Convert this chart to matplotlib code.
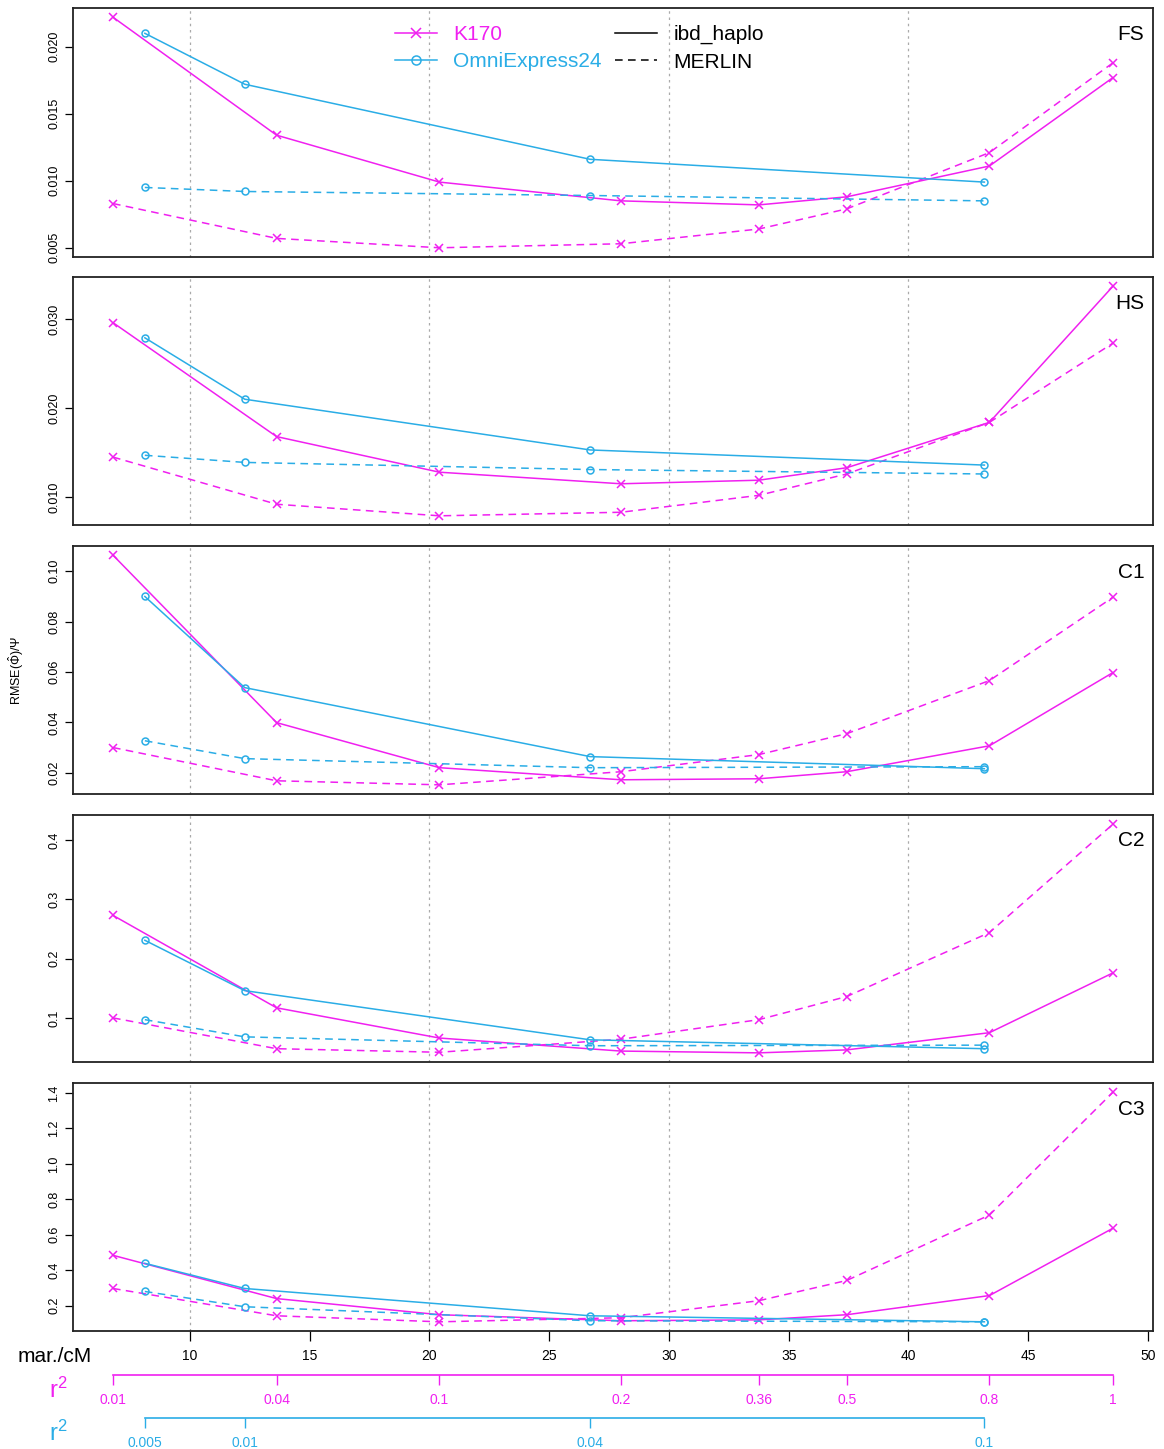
# RMSE of kinship estimates vs marker density, two arrays x two methods

import matplotlib
matplotlib.use("Agg")
import matplotlib.pyplot as plt
from matplotlib.lines import Line2D
from matplotlib.ticker import MultipleLocator, FormatStrFormatter

plt.rcParams["font.family"] = ["Liberation Sans", "DejaVu Sans"]
plt.rcParams["mathtext.fontset"] = "custom"
plt.rcParams["mathtext.rm"] = "Liberation Sans"
plt.rcParams["mathtext.it"] = "Liberation Sans:italic"

MAGENTA = "#F020F0"
CYAN = "#2AADE6"

# marker density (mar./cM) for each r2 pruning threshold
k170_x = [6.79, 13.62, 20.42, 28.0, 33.75, 37.42, 43.38, 48.54]
k170_r2 = ["0.01", "0.04", "0.1", "0.2", "0.36", "0.5", "0.8", "1"]
omni_x = [8.12, 12.29, 26.71, 43.17]
omni_r2 = ["0.005", "0.01", "0.04", "0.1"]

panel_names = ["FS", "HS", "C1", "C2", "C3"]

# RMSE / psi per panel: K170 ibd_haplo, K170 MERLIN, Omni ibd_haplo, Omni MERLIN
fs_k170_ibd = [0.0222, 0.0134, 0.0099, 0.0085, 0.0082, 0.0088, 0.0111, 0.0177]
fs_k170_merlin = [0.0083, 0.0057, 0.0050, 0.0053, 0.0064, 0.0079, 0.0121, 0.0188]
fs_omni_ibd = [0.0210, 0.0172, 0.0116, 0.0099]
fs_omni_merlin = [0.0095, 0.0092, 0.0089, 0.0085]

hs_k170_ibd = [0.0296, 0.0168, 0.0128, 0.0115, 0.0119, 0.0133, 0.0184, 0.0337]
hs_k170_merlin = [0.0145, 0.0092, 0.0079, 0.0083, 0.0102, 0.0126, 0.0184, 0.0273]
hs_omni_ibd = [0.0279, 0.0210, 0.0153, 0.0136]
hs_omni_merlin = [0.0147, 0.0139, 0.0131, 0.0126]

c1_k170_ibd = [0.1064, 0.0399, 0.0220, 0.0172, 0.0176, 0.0204, 0.0307, 0.0598]
c1_k170_merlin = [0.0300, 0.0168, 0.0152, 0.0204, 0.0272, 0.0355, 0.0566, 0.0897]
c1_omni_ibd = [0.0900, 0.0538, 0.0264, 0.0216]
c1_omni_merlin = [0.0327, 0.0256, 0.0220, 0.0224]

c2_k170_ibd = [0.273, 0.117, 0.066, 0.044, 0.041, 0.046, 0.075, 0.176]
c2_k170_merlin = [0.100, 0.048, 0.042, 0.064, 0.097, 0.136, 0.244, 0.427]
c2_omni_ibd = [0.231, 0.146, 0.063, 0.048]
c2_omni_merlin = [0.097, 0.068, 0.053, 0.054]

c3_k170_ibd = [0.484, 0.240, 0.149, 0.115, 0.120, 0.149, 0.257, 0.637]
c3_k170_merlin = [0.297, 0.143, 0.109, 0.132, 0.228, 0.342, 0.711, 1.404]
c3_omni_ibd = [0.439, 0.297, 0.143, 0.109]
c3_omni_merlin = [0.280, 0.194, 0.115, 0.109]

panel_data = [
    (fs_k170_ibd, fs_k170_merlin, fs_omni_ibd, fs_omni_merlin),
    (hs_k170_ibd, hs_k170_merlin, hs_omni_ibd, hs_omni_merlin),
    (c1_k170_ibd, c1_k170_merlin, c1_omni_ibd, c1_omni_merlin),
    (c2_k170_ibd, c2_k170_merlin, c2_omni_ibd, c2_omni_merlin),
    (c3_k170_ibd, c3_k170_merlin, c3_omni_ibd, c3_omni_merlin),
]
y_steps = [0.005, 0.01, 0.02, 0.1, 0.2]
y_formats = ["%.3f", "%.3f", "%.2f", "%.1f", "%.1f"]

W, H = 1164, 1449
# panel pixel rows (top, bottom)
panel_rows = [(8, 257), (277, 525), (546, 794), (815, 1062), (1083, 1331)]
LEFT, RIGHT = 73, 1153

DASH = (0, (5, 3.5))


def draw_panel(ax, data, name, step, fmt):
    k_ibd, k_mer, o_ibd, o_mer = data
    for v in [10, 20, 30, 40]:
        ax.axvline(v, color="#aaaaaa", lw=0.9, ls=(0, (2, 3)), zorder=0)
    ax.plot(k170_x, k_ibd, color=MAGENTA, lw=1.1, marker="x", ms=5.5, mew=1.1)
    ax.plot(k170_x, k_mer, color=MAGENTA, lw=1.1, ls=DASH, marker="x", ms=5.5, mew=1.1)
    ax.plot(omni_x, o_ibd, color=CYAN, lw=1.1, marker="o", ms=5, mfc="none", mew=1.1)
    ax.plot(omni_x, o_mer, color=CYAN, lw=1.1, ls=DASH, marker="o", ms=5, mfc="none", mew=1.1)
    ax.margins(x=0.04, y=0.04)
    ax.yaxis.set_major_locator(MultipleLocator(step))
    ax.yaxis.set_major_formatter(FormatStrFormatter(fmt))
    ax.tick_params(axis="y", labelsize=9, length=6, width=0.9, pad=3, labelrotation=90)
    for lbl in ax.get_yticklabels():
        lbl.set_va("center")
    for sp in ax.spines.values():
        sp.set_linewidth(1.3)
        sp.set_color("#222222")
    ax.text(0.992, 0.895, name, transform=ax.transAxes, ha="right", va="center", fontsize=15)


def r2_axis(fig, xlim, ypix, xs, labels, color):
    ax = fig.add_axes([LEFT / W, 1 - ypix / H, (RIGHT - LEFT) / W, 0.0001])
    ax.set_xlim(xlim)
    ax.patch.set_visible(False)
    for side in ["top", "left", "right"]:
        ax.spines[side].set_visible(False)
    ax.spines["bottom"].set_bounds(xs[0], xs[-1])
    ax.spines["bottom"].set_color(color)
    ax.spines["bottom"].set_linewidth(1.2)
    ax.set_yticks([])
    ax.set_xticks(xs)
    ax.set_xticklabels(labels)
    ax.tick_params(axis="x", colors=color, labelsize=10, length=7, width=1.0, pad=6)
    fig.text(58 / W, 1 - (ypix + 15) / H, r"$\mathregular{r^2}$", color=color, fontsize=17,
             ha="center", va="center")


def main():
    fig = plt.figure(figsize=(W / 100, H / 100), dpi=100)
    axes = []
    for i, (top, bot) in enumerate(panel_rows):
        ax = fig.add_axes([LEFT / W, 1 - bot / H, (RIGHT - LEFT) / W, (bot - top) / H],
                          sharex=axes[0] if axes else None)
        draw_panel(ax, panel_data[i], panel_names[i], y_steps[i], y_formats[i])
        axes.append(ax)

    for ax in axes[:-1]:
        ax.tick_params(axis="x", bottom=False, labelbottom=False)
    axes[-1].xaxis.set_major_locator(MultipleLocator(5))
    axes[-1].tick_params(axis="x", labelsize=10, length=7, width=0.9, pad=6)

    # legends
    h1 = [Line2D([], [], color=MAGENTA, lw=1.1, marker="x", ms=7, mew=1.1),
          Line2D([], [], color=CYAN, lw=1.1, marker="o", ms=6.5, mfc="none", mew=1.1)]
    leg1 = axes[0].legend(h1, ["K170", "OmniExpress24"], loc="upper left",
                          bbox_to_anchor=((395 - LEFT) / 1080, (257 - 25) / 249),
                          frameon=False, fontsize=15, handlelength=2.0, handletextpad=0.8,
                          labelspacing=0.4, borderpad=0, borderaxespad=0, labelcolor="linecolor")
    axes[0].add_artist(leg1)
    h2 = [Line2D([], [], color="black", lw=1.1),
          Line2D([], [], color="black", lw=1.1, ls=DASH)]
    axes[0].legend(h2, ["ibd_haplo", "MERLIN"], loc="upper left",
                   bbox_to_anchor=((615 - LEFT) / 1080, (257 - 25) / 249),
                   frameon=False, fontsize=15, handlelength=2.0, handletextpad=0.8,
                   labelspacing=0.4, borderpad=0, borderaxespad=0)

    fig.text(16 / W, 1 - 670 / H, r"RMSE($\hat{\Phi}$)/$\Psi$", rotation=90,
             ha="center", va="center", fontsize=9)
    fig.text(18 / W, 1 - 1357 / H, "mar./cM", ha="left", va="center", fontsize=15)

    xlim = axes[-1].get_xlim()
    r2_axis(fig, xlim, 1375, k170_x, k170_r2, MAGENTA)
    r2_axis(fig, xlim, 1418, omni_x, omni_r2, CYAN)

    fig.savefig("out.png", dpi=100)


if __name__ == "__main__":
    main()
